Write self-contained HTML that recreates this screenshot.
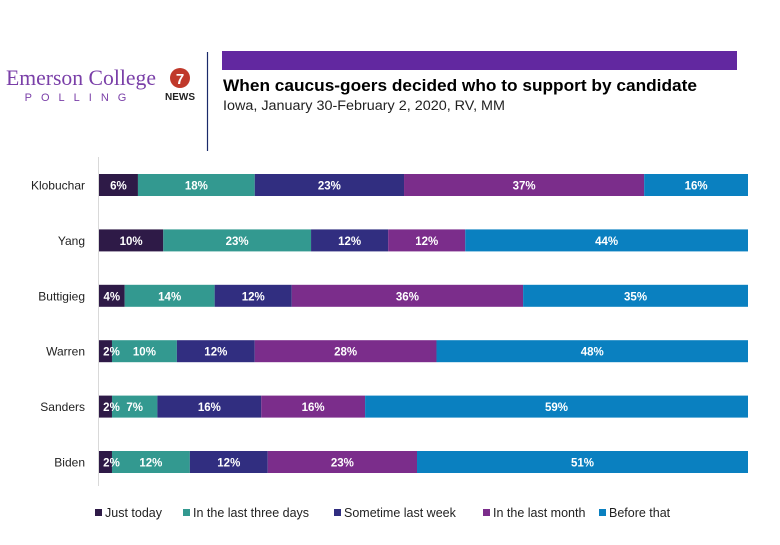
<!DOCTYPE html>
<html><head><meta charset="utf-8"><style>
body{margin:0;background:#fff;width:780px;height:540px;overflow:hidden;font-family:"Liberation Sans",sans-serif}
</style></head><body>
<svg width="780" height="540" xmlns="http://www.w3.org/2000/svg">
<g>
<text x="6" y="85" font-family="Liberation Serif,serif" font-size="22" fill="#7a3fa8" textLength="150" lengthAdjust="spacingAndGlyphs">Emerson College</text>
<text x="80" y="101" font-size="11" fill="#7a3fa8" text-anchor="middle" letter-spacing="9">POLLING</text>
<circle cx="180" cy="78" r="10" fill="#c0392b"/>
<text x="180" y="84" font-size="15" font-weight="bold" fill="#fff" text-anchor="middle">7</text>
<text x="180" y="100" font-size="10" font-weight="bold" fill="#222" text-anchor="middle">NEWS</text>
<line x1="207.5" y1="52" x2="207.5" y2="151" stroke="#1a2a6a" stroke-width="1.2"/>
<rect x="222" y="51" width="515" height="19" fill="#6228a0"/>
<text x="223" y="91" font-size="17" font-weight="bold" fill="#000" textLength="474" lengthAdjust="spacingAndGlyphs">When caucus-goers decided who to support by candidate</text>
<text x="223" y="110" font-size="13.5" fill="#222" textLength="282" lengthAdjust="spacingAndGlyphs">Iowa, January 30-February 2, 2020, RV, MM</text>
</g>
<line x1="98.5" y1="157" x2="98.5" y2="486" stroke="#d9d9d9"/>
<g id="bars"></g>
<g id="legend"></g>
</svg>
<script>
const candidates=["Klobuchar","Yang","Buttigieg","Warren","Sanders","Biden"];
const seriesNames=["Just today","In the last three days","Sometime last week","In the last month","Before that"];
const justToday=[6,10,4,2,2,2];
const lastThreeDays=[18,23,14,10,7,12];
const lastWeek=[23,12,12,12,16,12];
const lastMonth=[37,12,36,28,16,23];
const beforeThat=[16,44,35,48,59,51];
const colors=["#2e1a47","#339990","#312e80","#7b2d8b","#0a80c0"];
const series=[justToday,lastThreeDays,lastWeek,lastMonth,beforeThat];
const ns="http://www.w3.org/2000/svg";
const x0=99,x1=748,yTop=185,step=55.4,bh=22;
const g=document.getElementById('bars');
function mk(t,a){const e=document.createElementNS(ns,t);for(const k in a)e.setAttribute(k,a[k]);return e;}
candidates.forEach((c,i)=>{
 const cy=yTop+i*step;
 const tot=series.reduce((s,a)=>s+a[i],0);
 const lab=mk('text',{x:85,y:cy+4.5,'font-size':12,'text-anchor':'end',fill:'#222'});
 
 
 lab.textContent=c;g.appendChild(lab);
 let acc=0;
 series.forEach((s,j)=>{
  const xa=x0+(acc/tot)*(x1-x0),w=(s[i]/tot)*(x1-x0);acc+=s[i];
  const r=mk('rect',{x:xa,y:cy-bh/2,width:w,height:bh,fill:colors[j]});
  
  
  g.appendChild(r);
 });
 acc=0;
 series.forEach((s,j)=>{
  const xa=x0+(acc/tot)*(x1-x0),w=(s[i]/tot)*(x1-x0);acc+=s[i];
  const t=mk('text',{x:w<20?xa+w/2+6:xa+w/2,y:cy+4.5,'font-size':11.5,'font-weight':'bold','text-anchor':'middle',fill:'#fff'});
  
  
  t.textContent=s[i]+'%';g.appendChild(t);
 });
});
const lg=document.getElementById('legend');
const lx=[95,183,334,483,599];
seriesNames.forEach((n,j)=>{
 const r=mk('rect',{x:lx[j],y:509,width:7,height:7,fill:colors[j]});
 
 
 lg.appendChild(r);
 const t=mk('text',{x:lx[j]+10,y:517,'font-size':12.5,fill:'#222'});
 
 
 t.textContent=n;lg.appendChild(t);
});
</script>
</body></html>
